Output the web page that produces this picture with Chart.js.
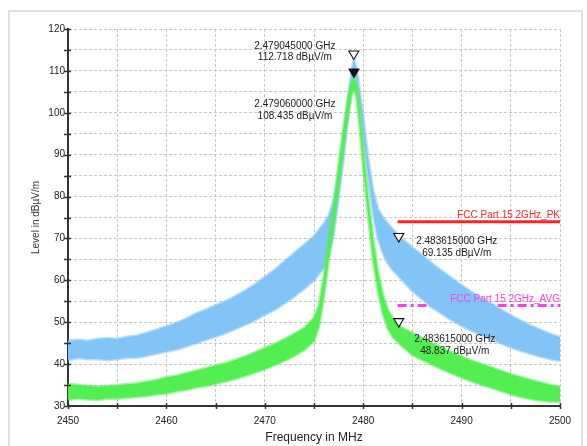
<!DOCTYPE html>
<html>
<head>
<meta charset="utf-8">
<title>Radiated emission 2450 - 2500 MHz</title>
<script src="https://cdn.jsdelivr.net/npm/chart.js@4.4.1/dist/chart.umd.min.js"></script>
<style>
  html, body { margin: 0; padding: 0; background: #fff; }
  canvas { display: block; }
</style>
</head>
<body>
<canvas id="spectrum" width="587" height="446"></canvas>
<script>
// peak detector trace (MHz / dBuV/m), drawn as a band between its max and min
const peakFreq = [2450, 2451, 2452, 2453, 2454, 2455, 2456, 2457, 2458, 2459, 2460, 2461, 2462, 2463, 2464, 2465, 2466, 2467, 2468, 2469, 2470, 2471, 2472, 2473, 2474, 2475, 2476,
  2476.5, 2477, 2477.5, 2478, 2478.5, 2478.8, 2479.045, 2479.3, 2479.6, 2480, 2480.5, 2481, 2481.5, 2482, 2482.5, 2483, 2483.615, 2484,
  2485, 2486, 2487, 2488, 2489, 2490, 2491, 2492, 2493, 2494, 2495, 2496, 2497, 2498, 2499, 2500];
const peakMax = [45.5, 45.8, 45.5, 46.0, 46.2, 46.0, 46.5, 46.8, 47.5, 48.2, 49.0, 49.8, 50.8, 52.0, 53.0, 54.0, 55.0, 56.2, 57.5, 59.0, 60.8, 62.5, 64.5, 66.5, 68.5, 70.5, 73.5,
  75.5, 79.0, 85.0, 94.0, 104.0, 109.5, 112.718, 111.0, 106.0, 99.0, 89.0, 81.5, 77.0, 75.0, 73.5, 72.2, 70.8, 69.8,
  67.8, 66.0, 64.0, 62.2, 60.5, 58.8, 57.2, 55.8, 54.4, 53.0, 51.6, 50.4, 49.2, 48.2, 47.2, 46.4];
const peakMin = [41.0, 41.5, 41.2, 41.3, 41.0, 41.2, 41.5, 41.6, 42.0, 42.5, 43.0, 43.5, 44.2, 45.0, 45.8, 46.6, 47.4, 48.4, 49.4, 50.5, 51.8, 53.0, 54.5, 56.2, 58.0, 60.0, 63.0,
  66.0, 71.0, 80.0, 89.0, 100.0, 106.5, 109.5, 108.0, 103.0, 94.0, 85.0, 76.0, 70.0, 66.5, 64.0, 62.5, 61.0, 60.0,
  57.5, 55.5, 53.5, 52.0, 50.5, 49.2, 48.0, 47.0, 46.0, 45.0, 44.0, 43.2, 42.5, 41.8, 41.2, 40.8];

// average detector trace
const avgFreq = [2450, 2451, 2452, 2453, 2454, 2455, 2456, 2457, 2458, 2459, 2460, 2461, 2462, 2463, 2464, 2465, 2466, 2467, 2468, 2469, 2470, 2471, 2472, 2473, 2474, 2475,
  2475.5, 2476, 2476.5, 2477, 2477.5, 2478, 2478.5, 2478.8, 2479.06, 2479.3, 2479.6, 2480, 2480.5, 2481, 2481.5, 2482, 2482.5, 2483, 2483.615, 2484,
  2485, 2486, 2487, 2488, 2489, 2490, 2491, 2492, 2493, 2494, 2495, 2496, 2497, 2498, 2499, 2500];
const avgMax = [35.2, 35.0, 34.8, 34.6, 34.8, 34.9, 35.2, 35.4, 35.8, 36.2, 36.8, 37.2, 37.8, 38.4, 39.0, 39.6, 40.2, 41.0, 41.8, 42.8, 43.8, 44.8, 46.0, 47.2, 48.6, 51.0,
  54.0, 61.0, 70.0, 78.0, 87.5, 96.5, 104.0, 107.2, 108.435, 107.0, 102.0, 91.0, 80.0, 70.0, 62.0, 56.5, 53.0, 51.0, 49.3, 48.6,
  47.4, 46.2, 45.0, 43.9, 42.8, 41.8, 40.8, 40.0, 39.2, 38.4, 37.6, 36.9, 36.2, 35.6, 35.0, 34.6];
const avgMin = [31.5, 31.8, 31.6, 31.5, 31.8, 31.8, 32.0, 32.2, 32.4, 32.8, 33.0, 33.5, 33.9, 34.4, 34.8, 35.3, 35.9, 36.5, 37.2, 38.0, 38.8, 39.8, 40.8, 42.0, 43.4, 45.5,
  49.0, 56.0, 65.0, 73.5, 82.5, 92.0, 100.0, 104.0, 105.5, 104.0, 98.0, 87.0, 75.5, 65.0, 57.5, 52.0, 48.5, 46.5, 45.0, 44.2,
  42.2, 41.0, 39.9, 38.8, 37.8, 36.8, 35.9, 35.1, 34.4, 33.6, 32.8, 32.2, 31.7, 31.3, 31.1, 31.0];

// FCC Part 15 limits above the band edge
const limitFreq = [2483.5, 2500];
const limitPk = [74, 74];
const limitAvg = [54, 54];
const limitNames = ["FCC Part 15 2GHz_PK", "FCC Part 15 2GHz_AVG"];

// markers
const markerFreq = [2479.045, 2479.06, 2483.615, 2483.615];
const markerLevel = [112.718, 108.435, 69.135, 48.837];
const markerFilled = [false, true, false, false];

const xTickLabels = [2450, 2460, 2470, 2480, 2490, 2500];
const yTickLabels = [30, 40, 50, 60, 70, 80, 90, 100, 110, 120];

const BLUE = "#82c4f6";
const BLUE_EDGE = "rgba(130, 196, 246, 0.55)";
const GREEN = "#52ee52";
const GREEN_EDGE = "rgba(82, 238, 82, 0.55)";
const RED = "#ff2424";
const MAGENTA = "#ff3fe0";
const FONT = "'Liberation Sans', Arial, sans-serif";

function toPoints(xs, ys) {
  return xs.map((x, i) => ({ x: x, y: ys[i] }));
}

// marker text placement relative to the marker tip
const markerTextOffset = [
  { dx: -59, dy: [-13.5, -2] },
  { dx: -59, dy: [26.5, 38.5] },
  { dx: 58, dy: [-1, 11] },
  { dx: 56, dy: [12, 24] },
];

const decorations = {
  id: "decorations",
  beforeDraw(chart) {
    const ctx = chart.ctx;
    ctx.save();
    ctx.fillStyle = "#fff";
    ctx.fillRect(0, 0, chart.width, chart.height);
    ctx.strokeStyle = "#e0e0e0";
    ctx.lineWidth = 2;
    ctx.strokeRect(9, 11, 573, 445);
    ctx.restore();
  },
  afterDraw(chart) {
    const { ctx } = chart;
    const xs = chart.scales.x;
    const ys = chart.scales.y;
    ctx.save();

    // tick marks crossing the axis lines
    ctx.strokeStyle = "#333";
    ctx.lineWidth = 1.5;
    ctx.beginPath();
    ys.ticks.forEach((t) => {
      const py = Math.round(ys.getPixelForValue(t.value)) + 0.5;
      ctx.moveTo(xs.left - 4, py);
      ctx.lineTo(xs.left + 3, py);
    });
    xs.ticks.forEach((t) => {
      const px = Math.round(xs.getPixelForValue(t.value)) + 0.5;
      ctx.moveTo(px, ys.bottom - 3);
      ctx.lineTo(px, ys.bottom + 3);
    });
    ctx.stroke();

    // limit line names
    ctx.font = "10px " + FONT;
    ctx.textAlign = "right";
    ctx.textBaseline = "middle";
    const right = xs.getPixelForValue(limitFreq[limitFreq.length - 1]);
    ctx.fillStyle = RED;
    ctx.fillText(limitNames[0], right, ys.getPixelForValue(limitPk[1]) - 6);
    ctx.fillStyle = MAGENTA;
    ctx.fillText(limitNames[1], right, ys.getPixelForValue(limitAvg[1]) - 6);

    // markers: downward triangles with their tip on the trace
    markerFreq.forEach((f, i) => {
      const px = xs.getPixelForValue(f);
      const py = ys.getPixelForValue(markerLevel[i]);
      ctx.beginPath();
      ctx.moveTo(px, py);
      ctx.lineTo(px - 5, py - 8.5);
      ctx.lineTo(px + 5, py - 8.5);
      ctx.closePath();
      ctx.fillStyle = markerFilled[i] ? "#111" : "#fff";
      ctx.fill();
      ctx.strokeStyle = "#111";
      ctx.lineWidth = 1.1;
      ctx.stroke();

      const off = markerTextOffset[i];
      ctx.fillStyle = "#1a1a1a";
      ctx.textAlign = "center";
      ctx.fillText((f / 1000).toFixed(9) + " GHz", px + off.dx, py + off.dy[0]);
      ctx.fillText(markerLevel[i].toFixed(3) + " dB\u00b5V/m", px + off.dx, py + off.dy[1]);
    });

    ctx.restore();
  },
};

const gridStyle = { color: "#c8c8c8", lineWidth: 1, drawTicks: false };
const borderStyle = { display: true, color: "#333", width: 2, dash: [3, 2] };

// soft, slightly wider edges stand in for the detector noise on each band
function band(label, freq, values, fillColor, edgeColor, fill, order) {
  return {
    label: label,
    data: toPoints(freq, values),
    borderColor: edgeColor,
    backgroundColor: fillColor,
    borderWidth: 3,
    pointRadius: 0,
    fill: fill,
    order: order,
  };
}

new Chart(document.getElementById("spectrum"), {
  type: "line",
  data: {
    datasets: [
      band("PK max", peakFreq, peakMax, BLUE, BLUE_EDGE, "+1", 3),
      band("PK min", peakFreq, peakMin, BLUE, BLUE_EDGE, false, 3),
      band("AV max", avgFreq, avgMax, GREEN, GREEN_EDGE, "+1", 1),
      band("AV min", avgFreq, avgMin, GREEN, GREEN_EDGE, false, 1),
      {
        label: limitNames[0],
        data: toPoints(limitFreq, limitPk),
        borderColor: RED,
        borderWidth: 3,
        pointRadius: 0,
        fill: false,
        order: 5,
      },
      {
        label: limitNames[1],
        data: toPoints(limitFreq, limitAvg),
        borderColor: MAGENTA,
        borderWidth: 3,
        borderDash: [9, 4, 3, 4],
        pointRadius: 0,
        fill: false,
        order: 5,
      },
    ],
  },
  options: {
    responsive: false,
    animation: false,
    devicePixelRatio: 1,
    layout: { padding: { left: 0, top: 29, right: 27, bottom: 0 } },
    plugins: {
      legend: { display: false },
      tooltip: { enabled: false },
    },
    scales: {
      x: {
        type: "linear",
        min: 2450,
        max: 2500,
        grid: gridStyle,
        border: borderStyle,
        afterFit: (scale) => { scale.height = 40; },
        ticks: {
          stepSize: 5,
          autoSkip: false,
          maxRotation: 0,
          padding: 9,
          color: "#222",
          font: { family: FONT, size: 10 },
          callback: (v) => (xTickLabels.includes(v) ? String(v) : ""),
        },
        title: {
          display: true,
          text: "Frequency in MHz",
          color: "#222",
          font: { family: FONT, size: 12 },
          padding: { top: 0, bottom: 1 },
        },
      },
      y: {
        min: 30,
        max: 120,
        grid: gridStyle,
        border: borderStyle,
        afterFit: (scale) => { scale.width = 68; },
        ticks: {
          stepSize: 5,
          autoSkip: false,
          padding: 3,
          color: "#222",
          font: { family: FONT, size: 10 },
          callback: (v) => (yTickLabels.includes(v) ? String(v) : ""),
        },
        title: {
          display: true,
          text: "Level in dB\u00b5V/m",
          color: "#333",
          font: { family: FONT, size: 10 },
          padding: { top: 30, bottom: 0 },
        },
      },
    },
  },
  plugins: [decorations],
});
</script>
</body>
</html>
